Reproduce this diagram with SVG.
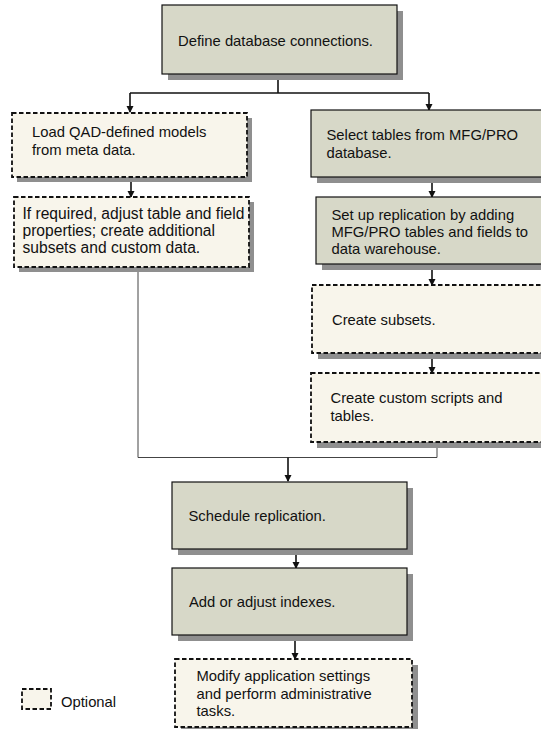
<svg xmlns="http://www.w3.org/2000/svg" width="541" height="729" viewBox="0 0 541 729">
<style>
text{font-family:"Liberation Sans",Arial,sans-serif;font-size:14.8px;fill:#111}
.sh{fill:#8f8f8f}
.solid{fill:#d7d8c8;stroke:#111;stroke-width:1.2}
.opt{fill:#f8f5eb;stroke:#111;stroke-width:1.8;stroke-dasharray:4.5,2.5}
.c{fill:none;stroke:#111;stroke-width:1.6}
.m{fill:none;stroke:#444;stroke-width:1}
</style>
<defs>
<marker id="ah" markerWidth="8" markerHeight="8" refX="6" refY="4" orient="auto" markerUnits="userSpaceOnUse">
<path d="M0,0.5 L7,4 L0,7.5 Z" fill="#111"/>
</marker>
</defs>
<rect x="0" y="0" width="541" height="729" fill="#fff"/>
<g id="connectors">
<path class="c" d="M278,74 V93"/>
<path class="c" d="M130,93 H429"/>
<path class="c" d="M130,93 V112" marker-end="url(#ah)"/>
<path class="c" d="M429,93 V110" marker-end="url(#ah)"/>
<path class="c" d="M131,177 V197" marker-end="url(#ah)"/>
<path class="c" d="M432,177 V197" marker-end="url(#ah)"/>
<path class="c" d="M432,264 V285" marker-end="url(#ah)"/>
<path class="c" d="M432,353 V373" marker-end="url(#ah)"/>
<path class="m" d="M138,267 V457.5 H437 V448"/>
<path class="c" d="M288,457.5 V481" marker-end="url(#ah)"/>
<path class="c" d="M296,549 V568" marker-end="url(#ah)"/>
<path class="c" d="M295,635 V659" marker-end="url(#ah)"/>
</g>
<g id="n1">
<rect class="sh" x="168" y="11" width="235" height="69"/>
<rect class="solid" x="162" y="5" width="235" height="69"/>
<text x="178" y="46">Define database connections.</text>
</g>
<g id="n2">
<rect class="sh" x="17" y="118" width="235" height="64"/>
<rect class="opt" x="12" y="113" width="235" height="64"/>
<text x="32" y="137">Load QAD-defined models</text>
<text x="32" y="155">from meta data.</text>
</g>
<g id="n3">
<rect class="sh" x="19" y="202" width="235" height="70"/>
<rect class="opt" x="14" y="197" width="235" height="70"/>
<text x="22.5" y="219" style="font-size:15.6px">If required, adjust table and field</text>
<text x="22.5" y="236" style="font-size:15.6px">properties; create additional</text>
<text x="22.5" y="253" style="font-size:15.6px">subsets and custom data.</text>
</g>
<g id="n4">
<rect class="sh" x="317" y="116" width="240" height="67"/>
<rect class="solid" x="311" y="110" width="240" height="67"/>
<text x="326.5" y="140">Select tables from MFG/PRO</text>
<text x="326.5" y="158">database.</text>
</g>
<g id="n5">
<rect class="sh" x="322" y="203" width="240" height="67"/>
<rect class="solid" x="316" y="197" width="240" height="67"/>
<text x="331.5" y="220">Set up replication by adding</text>
<text x="331.5" y="237">MFG/PRO tables and fields to</text>
<text x="331.5" y="254">data warehouse.</text>
</g>
<g id="n6">
<rect class="sh" x="318" y="291" width="240" height="68"/>
<rect class="opt" x="312" y="285" width="240" height="68"/>
<text x="332" y="325">Create subsets.</text>
</g>
<g id="n7">
<rect class="sh" x="317" y="379" width="240" height="69"/>
<rect class="opt" x="311" y="373" width="240" height="69"/>
<text x="330.5" y="403">Create custom scripts and</text>
<text x="330.5" y="421">tables.</text>
</g>
<g id="n8">
<rect class="sh" x="178" y="488" width="235" height="67"/>
<rect class="solid" x="172" y="482" width="235" height="67"/>
<text x="188.5" y="521">Schedule replication.</text>
</g>
<g id="n9">
<rect class="sh" x="178" y="574" width="235" height="67"/>
<rect class="solid" x="172" y="568" width="235" height="67"/>
<text x="189" y="607">Add or adjust indexes.</text>
</g>
<g id="n10">
<rect class="sh" x="181" y="665" width="237" height="68"/>
<rect class="opt" x="175" y="659" width="237" height="68"/>
<text x="196.5" y="681">Modify application settings</text>
<text x="196.5" y="698.5">and perform administrative</text>
<text x="196.5" y="716">tasks.</text>
</g>
<g id="legend">
<rect class="opt" x="22" y="689" width="29" height="20"/>
<text x="61" y="707">Optional</text>
</g>
</svg>
